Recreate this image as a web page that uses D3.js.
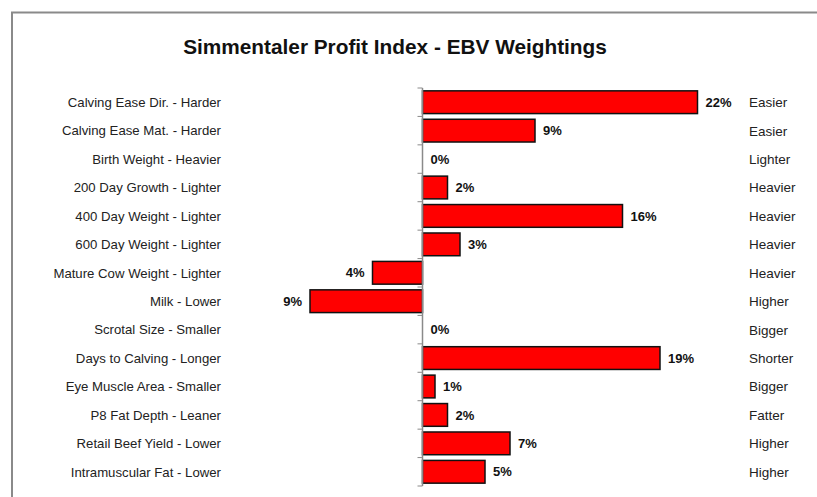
<!DOCTYPE html>
<html><head><meta charset="utf-8">
<script src="https://cdn.jsdelivr.net/npm/d3@7"></script>
<style>body{margin:0;background:#fff}svg{display:block}</style>
</head><body>
<svg id="chart" width="817" height="497"></svg>
<script>
const leftLabels = ["Calving Ease Dir. - Harder","Calving Ease Mat. - Harder","Birth Weight - Heavier","200 Day Growth - Lighter","400 Day Weight - Lighter","600 Day Weight - Lighter","Mature Cow Weight - Lighter","Milk - Lower","Scrotal Size - Smaller","Days to Calving - Longer","Eye Muscle Area - Smaller","P8 Fat Depth - Leaner","Retail Beef Yield - Lower","Intramuscular Fat - Lower"];
const rightLabels = ["Easier","Easier","Lighter","Heavier","Heavier","Heavier","Heavier","Higher","Bigger","Shorter","Bigger","Fatter","Higher","Higher"];
const weights = [22,9,0,2,16,3,-4,-9,0,19,1,2,7,5];
const title = "Simmentaler Profit Index - EBV Weightings";

const svg = d3.select("#chart");
const font = "'Liberation Sans', Arial, sans-serif";

// frame (top + left lines)
svg.append("path").attr("d","M12,497V12.5H817").attr("fill","none").attr("stroke","#8a8a8a").attr("stroke-width",2);

svg.append("text").attr("x",395).attr("y",54).attr("text-anchor","middle")
  .attr("font-family",font).attr("font-weight","bold").attr("font-size",20.8).attr("fill","#111").text(title);

const x = d3.scaleLinear().domain([0,22]).range([422.5,697.5]);
const idx = d3.range(weights.length);
const y = d3.scaleBand().domain(idx).range([88,486]).paddingInner(0.2).paddingOuter(0.1);

// bars
svg.append("g").selectAll("rect").data(idx.filter(i=>weights[i]!==0)).join("rect")
  .attr("x",i=>x(Math.min(0,weights[i])))
  .attr("y",i=>y(i))
  .attr("width",i=>Math.abs(x(weights[i])-x(0)))
  .attr("height",y.bandwidth())
  .attr("fill","#ff0000").attr("stroke","#111").attr("stroke-width",1.5);

// axis at zero
const ticks = d3.range(weights.length+1).map(k=>88+k*(398/weights.length));
svg.append("line").attr("x1",x(0)).attr("x2",x(0)).attr("y1",88).attr("y2",486).attr("stroke","#8a8a8a").attr("stroke-width",1.5);
svg.append("g").selectAll("line").data(ticks).join("line")
  .attr("x1",x(0)-5).attr("x2",x(0)).attr("y1",d=>d).attr("y2",d=>d).attr("stroke","#8a8a8a").attr("stroke-width",1);

// value labels
svg.append("g").selectAll("text").data(idx).join("text")
  .attr("x",i=>weights[i]<0 ? x(weights[i])-8 : x(weights[i])+8)
  .attr("y",i=>y(i)+y.bandwidth()/2)
  .attr("dy","0.36em")
  .attr("text-anchor",i=>weights[i]<0?"end":"start")
  .attr("font-family",font).attr("font-weight","bold").attr("font-size",13).attr("fill","#111")
  .text(i=>Math.abs(weights[i])+"%");

// left labels
svg.append("g").selectAll("text").data(idx).join("text")
  .attr("x",221).attr("y",i=>y(i)+y.bandwidth()/2).attr("dy","0.36em")
  .attr("text-anchor","end").attr("font-family",font).attr("font-size",13.2).attr("fill","#222")
  .text(i=>leftLabels[i]);

// right labels
svg.append("g").selectAll("text").data(idx).join("text")
  .attr("x",749).attr("y",i=>y(i)+y.bandwidth()/2).attr("dy","0.36em")
  .attr("text-anchor","start").attr("font-family",font).attr("font-size",13.5).attr("fill","#222")
  .text(i=>rightLabels[i]);
</script>
</body></html>
